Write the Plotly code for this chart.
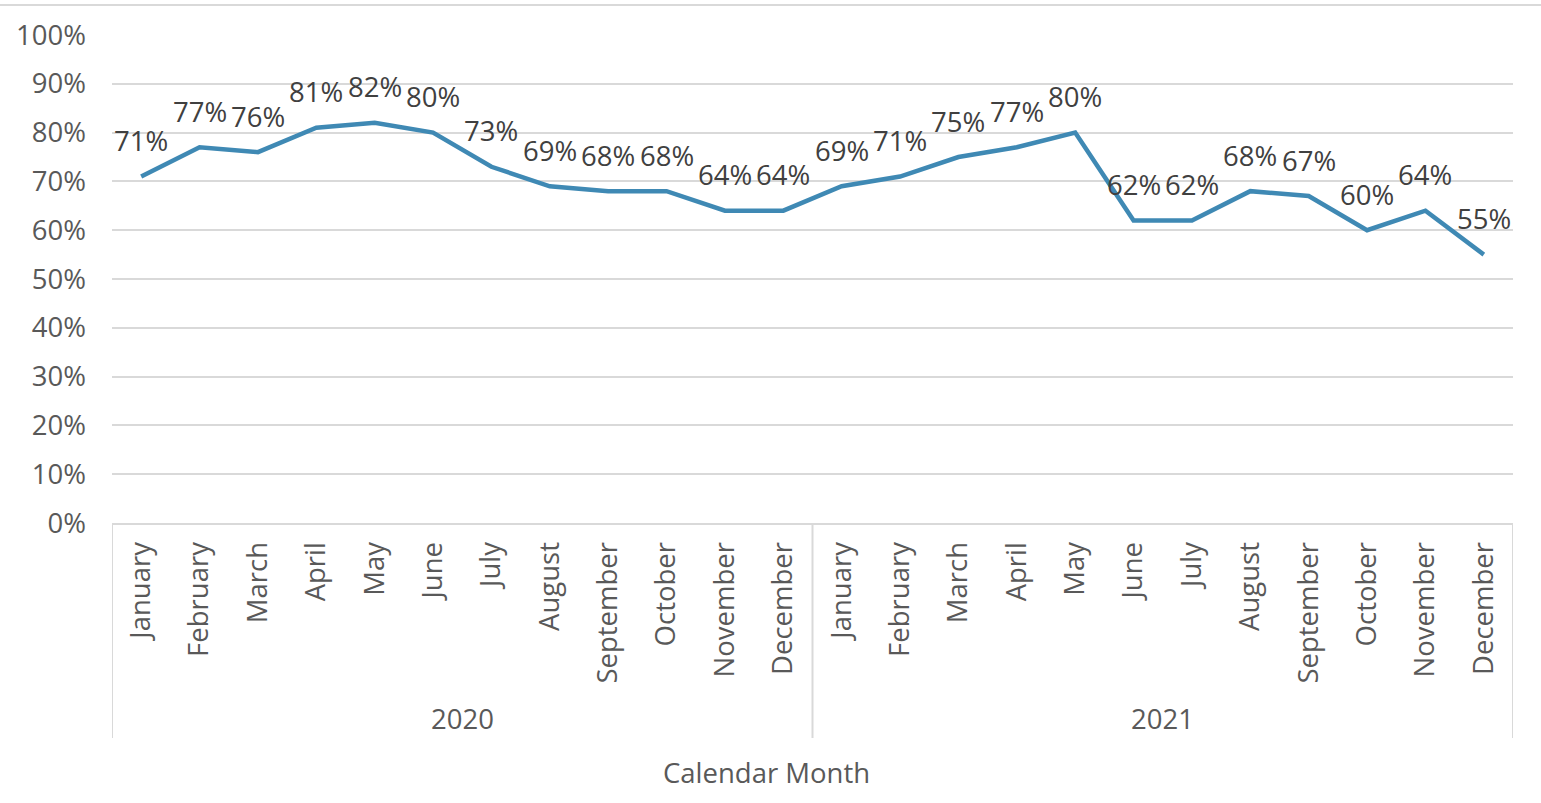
import plotly.graph_objects as go

years = ["2020", "2021"]
months = ["January", "February", "March", "April", "May", "June", "July",
          "August", "September", "October", "November", "December"]
values_2020 = [71, 77, 76, 81, 82, 80, 73, 69, 68, 68, 64, 64]
values_2021 = [69, 71, 75, 77, 80, 62, 62, 68, 67, 60, 64, 55]
y_ticks = [0, 10, 20, 30, 40, 50, 60, 70, 80, 90, 100]
x_title = "Calendar Month"

cats = [f"{y} {m}" for y in years for m in months]
month_labels = months * len(years)
vals = values_2020 + values_2021

FONT = "Open Sans"
FS = 27.5
AXIS_COLOR = "#595959"
LABEL_COLOR = "#404040"
GRID = "#D9D9D9"

fig = go.Figure()
fig.add_trace(go.Scatter(
    x=cats, y=vals, mode="lines",
    line=dict(color="#3F89B4", width=4.5),
    hoverinfo="x+y",
))

annotations = []
for c, v in zip(cats, vals):
    annotations.append(dict(
        x=c, y=v, xref="x", yref="y", text=f"{v}%", showarrow=False,
        yshift=36, font=dict(family=FONT, size=FS, color=LABEL_COLOR),
    ))

n = len(months)
for i, yr in enumerate(years):
    annotations.append(dict(
        x=i * n + (n - 1) / 2, y=-0.3996, xref="x", yref="paper", text=yr,
        showarrow=False, yanchor="middle",
        font=dict(family=FONT, size=FS, color=AXIS_COLOR),
    ))
annotations.append(dict(
    x=0.467, y=-0.512, xref="paper", yref="paper", text=x_title, showarrow=False,
    yanchor="middle", font=dict(family=FONT, size=FS, color=AXIS_COLOR),
))

shapes = []
for k in range(len(years) + 1):
    shapes.append(dict(type="line", xref="x", yref="paper",
                       x0=k * n - 0.5, x1=k * n - 0.5, y0=0, y1=-0.4406,
                       line=dict(color=GRID, width=2)))
shapes.append(dict(type="line", xref="paper", yref="paper",
                   x0=-0.09, x1=1.03, y0=1.0615, y1=1.0615,
                   line=dict(color=GRID, width=2)))

fig.update_layout(
    width=1541, height=803,
    margin=dict(l=112, r=28, t=35, b=280),
    paper_bgcolor="white", plot_bgcolor="white",
    showlegend=False,
    font=dict(family=FONT, size=FS, color=AXIS_COLOR),
    annotations=annotations, shapes=shapes,
)
fig.update_xaxes(
    type="category", range=[-0.5, len(cats) - 0.5],
    tickvals=cats, ticktext=month_labels, tickangle=-90,
    showgrid=False, showline=True, linecolor=GRID, linewidth=2,
    ticks="", ticklabelstandoff=6,
    tickfont=dict(family=FONT, size=FS, color=AXIS_COLOR),
    zeroline=False,
)
fig.update_yaxes(
    range=[0, 100], tickvals=y_ticks, ticktext=[f"{t}%" for t in y_ticks],
    showgrid=True, gridcolor=GRID, gridwidth=2,
    showline=False, zeroline=False, ticks="", ticklabelstandoff=25,
    tickfont=dict(family=FONT, size=FS, color=AXIS_COLOR),
)

fig.write_html("out.html", config={"displayModeBar": False},
               post_script="document.body.style.margin='0px';document.body.style.overflow='hidden';")
